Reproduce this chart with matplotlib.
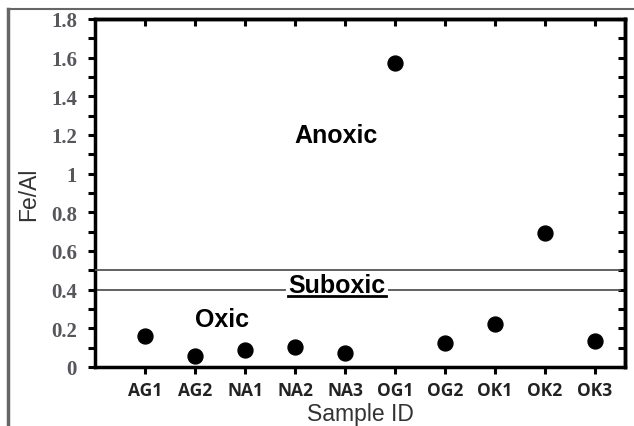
import matplotlib
matplotlib.use('Agg')
import matplotlib.pyplot as plt
from matplotlib.lines import Line2D
from matplotlib.ticker import MultipleLocator

# --- datos ---
samples = ['AG1', 'AG2', 'NA1', 'NA2', 'NA3', 'OG1', 'OG2', 'OK1', 'OK2', 'OK3']
fe_al = [0.16, 0.055, 0.09, 0.105, 0.075, 1.57, 0.125, 0.225, 0.695, 0.135]
limite_anoxic = 0.5
limite_oxic = 0.4
y_ticks = [0, 0.2, 0.4, 0.6, 0.8, 1.0, 1.2, 1.4, 1.6, 1.8]
y_labels = ['0', '0.2', '0.4', '0.6', '0.8', '1', '1.2', '1.4', '1.6', '1.8']

fig = plt.figure(figsize=(6.34, 4.27), dpi=100)
ax = fig.add_axes([95/634, 1 - 368/427, 530/634, 348/427])

x = list(range(1, len(samples) + 1))
ax.scatter(x, fe_al, s=115, color='black', zorder=5, clip_on=False)

# lineas de limite (la de 0.5 por encima del recuadro de "Suboxic")
ax.axhline(limite_anoxic, xmin=0, xmax=0.99, color='#555555', lw=1.3, zorder=4)
ax.axhline(limite_oxic, xmin=0, xmax=0.99, color='#555555', lw=1.3, zorder=1)

ax.set_xlim(0, 10.6)
ax.set_ylim(0, 1.8)
ax.set_xticks(x)
ax.set_xticklabels(samples, fontsize=12.5, fontweight='bold', color='#222222',
                   family='Open Sans')
ax.set_yticks(y_ticks)
ax.set_yticklabels(y_labels)
ax.yaxis.set_minor_locator(MultipleLocator(0.1))
for lbl in ax.get_yticklabels():
    lbl.set_family('Liberation Serif')
    lbl.set_fontweight('bold')
    lbl.set_fontsize(15)
    lbl.set_color('#58555c')

ax.tick_params(axis='both', which='both', width=2.2, length=5, direction='out')
ax.tick_params(axis='x', which='major', pad=5)
ax.tick_params(axis='y', which='both', pad=8)

# ticks de arriba y derecha hacia dentro (eje secundario)
ax_top = ax.secondary_xaxis('top')
ax_top.set_xticks(x)
ax_top.tick_params(direction='in', length=5, width=2.2, labeltop=False)
ax_right = ax.secondary_yaxis('right')
ax_right.set_yticks(y_ticks)
ax_right.yaxis.set_minor_locator(MultipleLocator(0.1))
ax_right.tick_params(which='both', direction='in', length=5, width=2.2, labelright=False)
for a in (ax_top, ax_right):
    for sp in a.spines.values():
        sp.set_linewidth(2.5)
for sp in ax.spines.values():
    sp.set_linewidth(2.5)

ax.set_ylabel('Fe/Al', fontsize=16.5, family='Liberation Sans', color='#333333', labelpad=8)
ax.set_xlabel('Sample ID', fontsize=16.5, family='Liberation Sans', color='#333333', labelpad=2)

ax.text(4.82, 1.2, 'Anoxic', fontsize=18, fontweight='bold', ha='center', va='center',
        family='Liberation Sans')
ax.text(2.54, 0.25, 'Oxic', fontsize=18, fontweight='bold', ha='center', va='center',
        family='Liberation Sans')
t = ax.text(4.84, 0.425, 'Suboxic', fontsize=18, fontweight='bold', ha='center', va='center',
            family='Liberation Sans', zorder=3,
            bbox=dict(facecolor='white', edgecolor='none', pad=2))

# subrayado de Suboxic
fig.canvas.draw()
bb = t.get_window_extent()
inv = fig.transFigure.inverted()
(x0, y0), (x1, _) = inv.transform([(bb.x0, bb.y0 + 1), (bb.x1, bb.y0)])
fig.add_artist(Line2D([x0, x1], [y0, y0], color='black', lw=2, zorder=4))

# marco exterior gris
fig.add_artist(Line2D([8/634, 8/634], [0, 1 - 10/427], color='#666666', lw=2.5))
fig.add_artist(Line2D([8/634, 1], [1 - 10/427, 1 - 10/427], color='#666666', lw=1.5))

fig.savefig('out.png', dpi=100)
